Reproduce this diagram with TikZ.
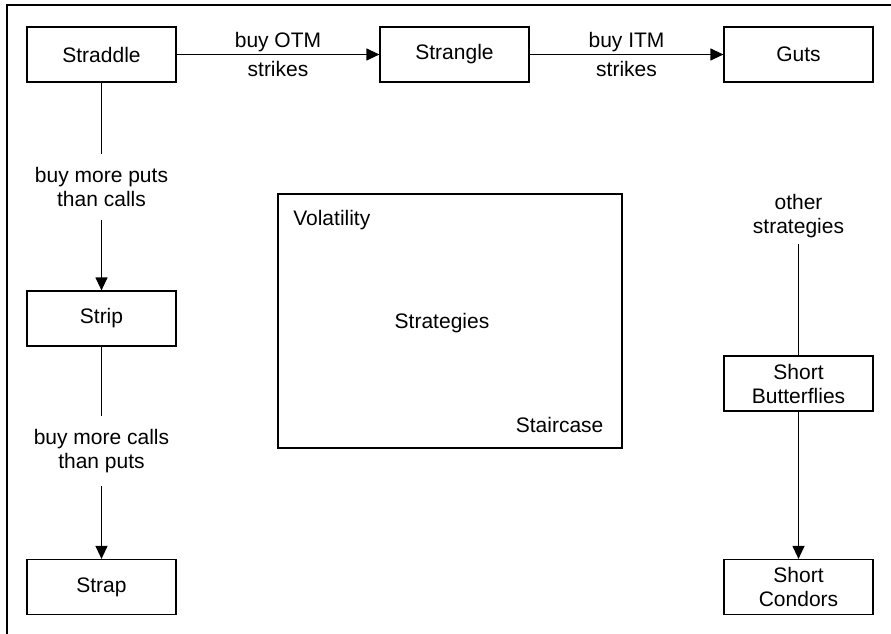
\documentclass[tikz,border=0pt]{standalone}
\usepackage{fontspec}
\setmainfont{Liberation Sans}
\usetikzlibrary{arrows.meta}
\tikzset{
  box/.style={draw, minimum width=149pt, minimum height=55pt, inner sep=0pt, align=center},
  lbl/.style={align=center, inner xsep=2pt, inner ysep=13pt},
}
\begin{document}
\begin{tikzpicture}[x=1pt, y=-1pt, line cap=butt, line join=miter, >={Triangle[length=13pt,width=12pt]}, font=\fontsize{21}{24}\selectfont, line width=1.2pt]
			\useasboundingbox (0,0) rectangle (891,634);
			\draw[line width=1.3pt] (7,634) -- (7,5) -- (891,5);
			% top row
			\node[box] (straddle) at (101.5,54.5) {Straddle};
			\node[box] (strangle) at (454.5,54.5) {Strangle};
			\node[box] (guts) at (798.5,54.5) {Guts};
			\draw[->] (straddle) -- node[align=center] (otm) {buy OTM\\[5pt]strikes} (strangle);
			\draw[->] (strangle) -- node[align=center] (itm) {buy ITM\\[5pt]strikes} (guts);
			% left column
			\node[box] (strip) at (101.5,318.5) {Strip};
			\node[box] (strap) at (101.5,587) {Strap};
			\node[lbl] (puts) at (101.5,187) {buy more puts\\than calls};
			\node[lbl] (calls) at (101.5,451) {buy more calls\\than puts};
			\draw (straddle) -- (puts);
			\draw[->] (puts) -- (strip);
			\draw (strip) -- (calls);
			\draw[->] (calls) -- (strap);
			% right column
			\node[lbl, inner ysep=6pt] (other) at (798.5,216) {other\\strategies};
			\node[box] (butterfly) at (798.5,383.5) {Short\\Butterflies};
			\node[box] (condor) at (798.5,587) {Short\\Condors};
			\draw (other) -- (butterfly);
			\draw[->] (butterfly) -- (condor);
			% centre box
			\node[draw, minimum width=344pt, minimum height=254pt, inner sep=0pt] (vol) at (450,321) {};
			\node[anchor=base west, inner sep=0pt] (voltxt) at (292.7,225) {Volatility};
			\node[anchor=base, inner sep=0pt] (strattxt) at (442,328) {Strategies};
			\node[anchor=base east, inner sep=0pt] (stairtxt) at (604,432) {Staircase};
		\end{tikzpicture}
\end{document}
